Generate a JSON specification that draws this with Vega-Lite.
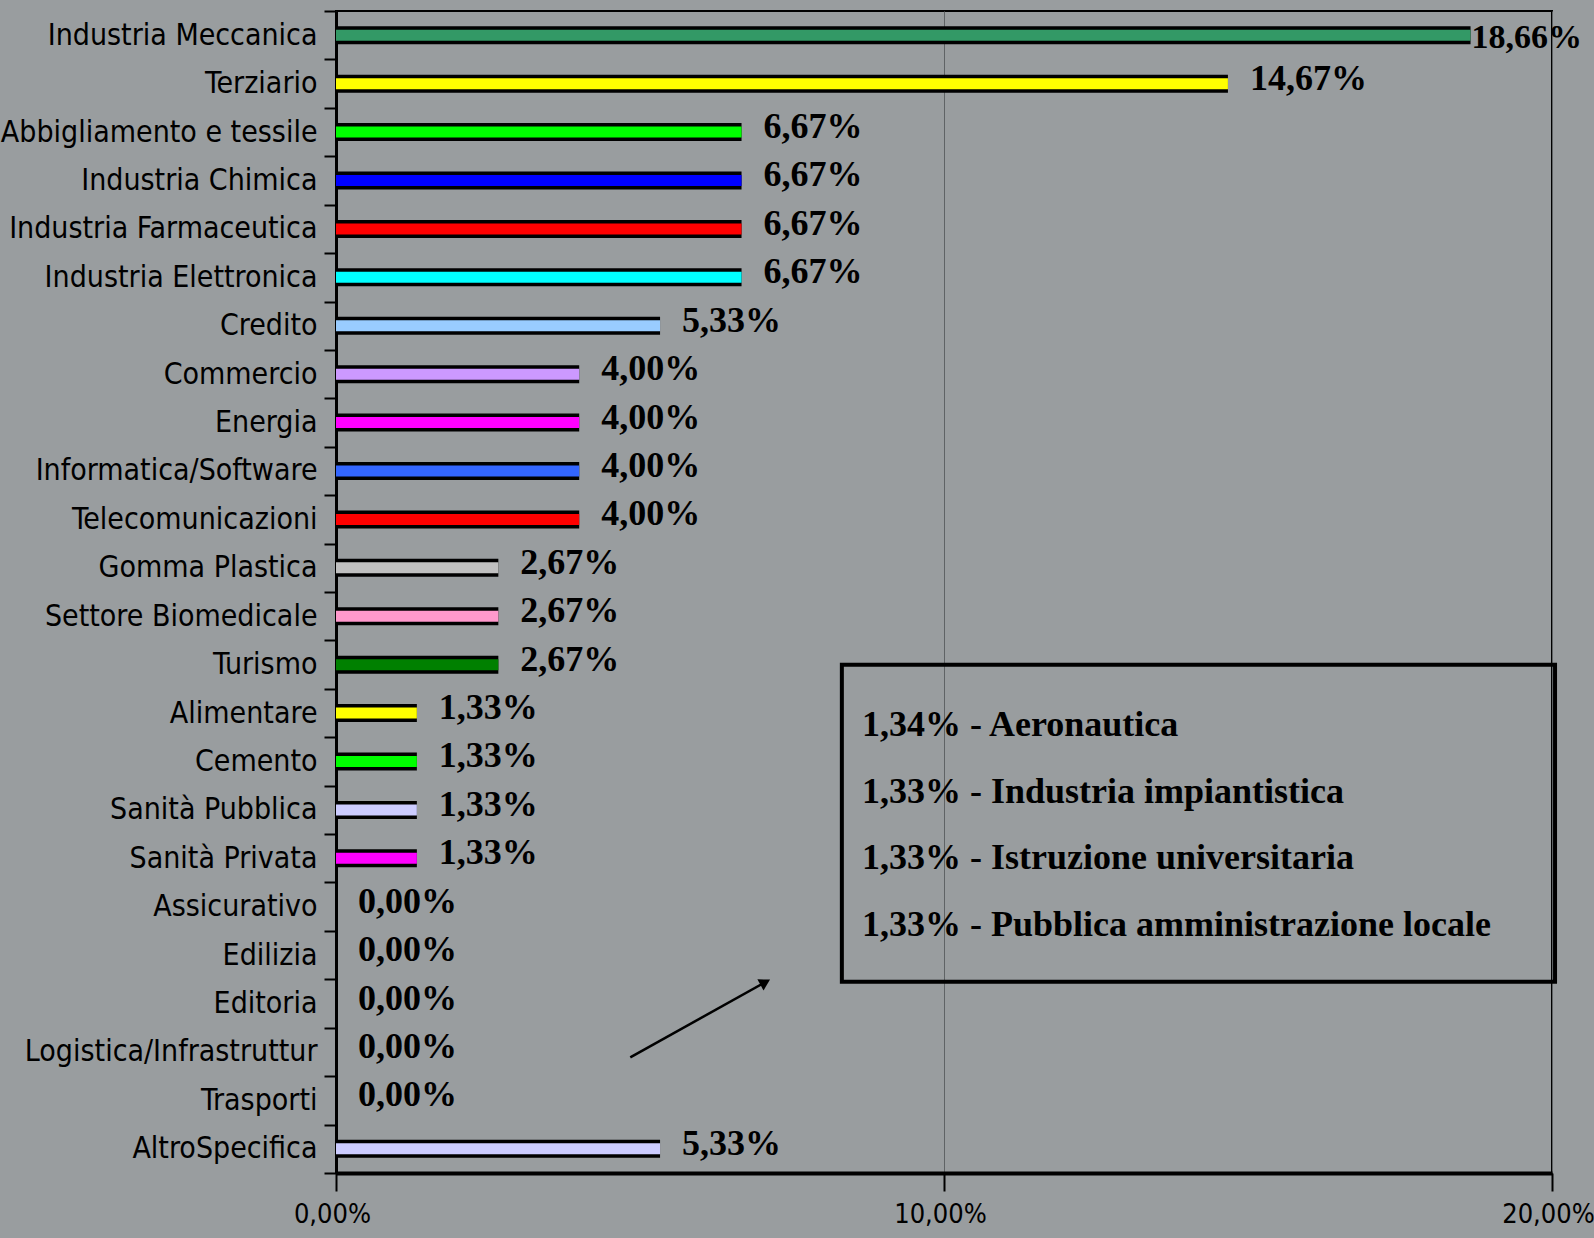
{
  "$schema": "https://vega.github.io/schema/vega-lite/v6.json",
  "width": 1216,
  "height": 1162,
  "autosize": {"type": "none"},
  "padding": {"left": 336, "top": 11, "right": 42, "bottom": 65},
  "background": "#999d9f",
  "config": {
    "locale": {"number": {"decimal": ",", "thousands": ".", "grouping": [3], "currency": ["€", ""]}},
    "view": {"stroke": "black", "strokeWidth": 2},
    "font": "DejaVu Sans Condensed"
  },
  "datasets": {
    "sectors": [
      {"sector": "Industria Meccanica", "value": 0.1866},
      {"sector": "Terziario", "value": 0.1467},
      {"sector": "Abbigliamento e tessile", "value": 0.0667},
      {"sector": "Industria Chimica", "value": 0.0667},
      {"sector": "Industria Farmaceutica", "value": 0.0667},
      {"sector": "Industria Elettronica", "value": 0.0667},
      {"sector": "Credito", "value": 0.0533},
      {"sector": "Commercio", "value": 0.04},
      {"sector": "Energia", "value": 0.04},
      {"sector": "Informatica/Software", "value": 0.04},
      {"sector": "Telecomunicazioni", "value": 0.04},
      {"sector": "Gomma Plastica", "value": 0.0267},
      {"sector": "Settore Biomedicale", "value": 0.0267},
      {"sector": "Turismo", "value": 0.0267},
      {"sector": "Alimentare", "value": 0.0133},
      {"sector": "Cemento", "value": 0.0133},
      {"sector": "Sanità Pubblica", "value": 0.0133},
      {"sector": "Sanità Privata", "value": 0.0133},
      {"sector": "Assicurativo", "value": 0},
      {"sector": "Edilizia", "value": 0},
      {"sector": "Editoria", "value": 0},
      {"sector": "Logistica/Infrastruttur", "value": 0},
      {"sector": "Trasporti", "value": 0},
      {"sector": "AltroSpecifica", "value": 0.0533}
    ],
    "notes": [
      {"label": "1,34% - Aeronautica", "x": 0.0865, "row": 14.75},
      {"label": "1,33% - Industria impiantistica", "x": 0.0865, "row": 16.13},
      {"label": "1,33% - Istruzione universitaria", "x": 0.0865, "row": 17.5},
      {"label": "1,33% - Pubblica amministrazione locale", "x": 0.0865, "row": 18.88}
    ],
    "box": [{"x": 0.0832, "x2": 0.2005, "row": 13.5, "row2": 20.05}],
    "arrow": [{"x": 0.0484, "row": 21.61, "end": false}, {"x": 0.0706, "row": 20.06, "end": true}]
  },
  "resolve": {"scale": {"y": "independent"}, "axis": {"y": "independent"}},
  "layer": [
    {
      "layer": [
        {
          "data": {"name": "sectors"},
          "mark": {"type": "bar", "size": 18, "color": "black"},
          "encoding": {
            "x": {
              "field": "value", "type": "quantitative",
              "scale": {"domain": [0, 0.2], "nice": false},
              "axis": {
                "title": null, "format": ".2%", "values": [0, 0.1, 0.2],
                "grid": true, "gridColor": "#5f6365", "gridWidth": 1,
                "domainColor": "black", "domainWidth": 4,
                "tickColor": "black", "tickSize": 18, "tickWidth": 2,
                "labelFont": "DejaVu Sans Condensed", "labelFontSize": 27,
                "labelColor": "black", "labelPadding": 10, "labelFlush": false, "labelOffset": -4
              }
            },
            "y": {
              "field": "sector", "type": "nominal", "sort": null,
              "scale": {"paddingInner": 0, "paddingOuter": 0},
              "axis": {
                "title": null, "domainColor": "black", "domainWidth": 3,
                "tickColor": "black", "tickSize": 12, "tickWidth": 2, "tickBand": "extent",
                "labelFont": "DejaVu Sans Condensed", "labelFontSize": 30,
                "labelColor": "black", "labelPadding": 7, "labelLimit": 400
              }
            }
          }
        },
        {
          "data": {"name": "sectors"},
          "mark": {"type": "bar", "size": 11},
          "encoding": {
            "x": {"field": "value", "type": "quantitative"},
            "y": {"field": "sector", "type": "nominal", "sort": null},
            "color": {
              "field": "sector", "type": "nominal", "legend": null,
              "scale": {
                "domain": ["Industria Meccanica", "Terziario", "Abbigliamento e tessile", "Industria Chimica", "Industria Farmaceutica", "Industria Elettronica", "Credito", "Commercio", "Energia", "Informatica/Software", "Telecomunicazioni", "Gomma Plastica", "Settore Biomedicale", "Turismo", "Alimentare", "Cemento", "Sanità Pubblica", "Sanità Privata", "Assicurativo", "Edilizia", "Editoria", "Logistica/Infrastruttur", "Trasporti", "AltroSpecifica"],
                "range": ["#339966", "#ffff00", "#00ff00", "#0000ff", "#ff0000", "#00ffff", "#99ccff", "#cc99ff", "#ff00ff", "#3366ff", "#ff0000", "#c0c0c0", "#ff99cc", "#008000", "#ffff00", "#00ff00", "#ccccff", "#ff00ff", "#800000", "#800080", "#008080", "#808000", "#008000", "#ccccff"]
              }
            }
          }
        },
        {
          "data": {"name": "sectors"},
          "transform": [{"filter": "datum.value < 0.18"}],
          "mark": {"type": "text", "align": "left", "baseline": "middle", "dx": 22, "dy": -5, "font": "Liberation Serif", "fontWeight": "bold", "fontSize": 36, "color": "black"},
          "encoding": {
            "x": {"field": "value", "type": "quantitative"},
            "y": {"field": "sector", "type": "nominal", "sort": null},
            "text": {"field": "value", "type": "quantitative", "format": ".2%"}
          }
        },
        {
          "data": {"name": "sectors"},
          "transform": [{"filter": "datum.value >= 0.18"}],
          "mark": {"type": "text", "align": "left", "baseline": "middle", "dx": 1, "dy": 3, "font": "Liberation Serif", "fontWeight": "bold", "fontSize": 34, "color": "black"},
          "encoding": {
            "x": {"field": "value", "type": "quantitative"},
            "y": {"field": "sector", "type": "nominal", "sort": null},
            "text": {"field": "value", "type": "quantitative", "format": ".2%"}
          }
        }
      ]
    },
    {
      "layer": [
        {
          "data": {"name": "box"},
          "mark": {"type": "rect", "fillOpacity": 0, "stroke": "black", "strokeWidth": 4},
          "encoding": {
            "x": {"field": "x", "type": "quantitative"},
            "x2": {"field": "x2"},
            "y": {"field": "row", "type": "quantitative", "scale": {"domain": [0, 24], "reverse": true, "nice": false, "zero": false}, "axis": null},
            "y2": {"field": "row2"}
          }
        },
        {
          "data": {"name": "notes"},
          "mark": {"type": "text", "align": "left", "baseline": "middle", "font": "Liberation Serif", "fontWeight": "bold", "fontSize": 36, "color": "black"},
          "encoding": {
            "x": {"field": "x", "type": "quantitative"},
            "y": {"field": "row", "type": "quantitative"},
            "text": {"field": "label"}
          }
        },
        {
          "data": {"name": "arrow"},
          "mark": {"type": "line", "color": "black", "strokeWidth": 2.5},
          "encoding": {
            "x": {"field": "x", "type": "quantitative"},
            "y": {"field": "row", "type": "quantitative"}
          }
        },
        {
          "data": {"name": "arrow"},
          "transform": [{"filter": "datum.end"}],
          "mark": {"type": "point", "shape": "triangle-up", "angle": 61, "size": 160, "filled": true, "color": "black", "opacity": 1},
          "encoding": {
            "x": {"field": "x", "type": "quantitative"},
            "y": {"field": "row", "type": "quantitative"}
          }
        }
      ]
    }
  ]
}
